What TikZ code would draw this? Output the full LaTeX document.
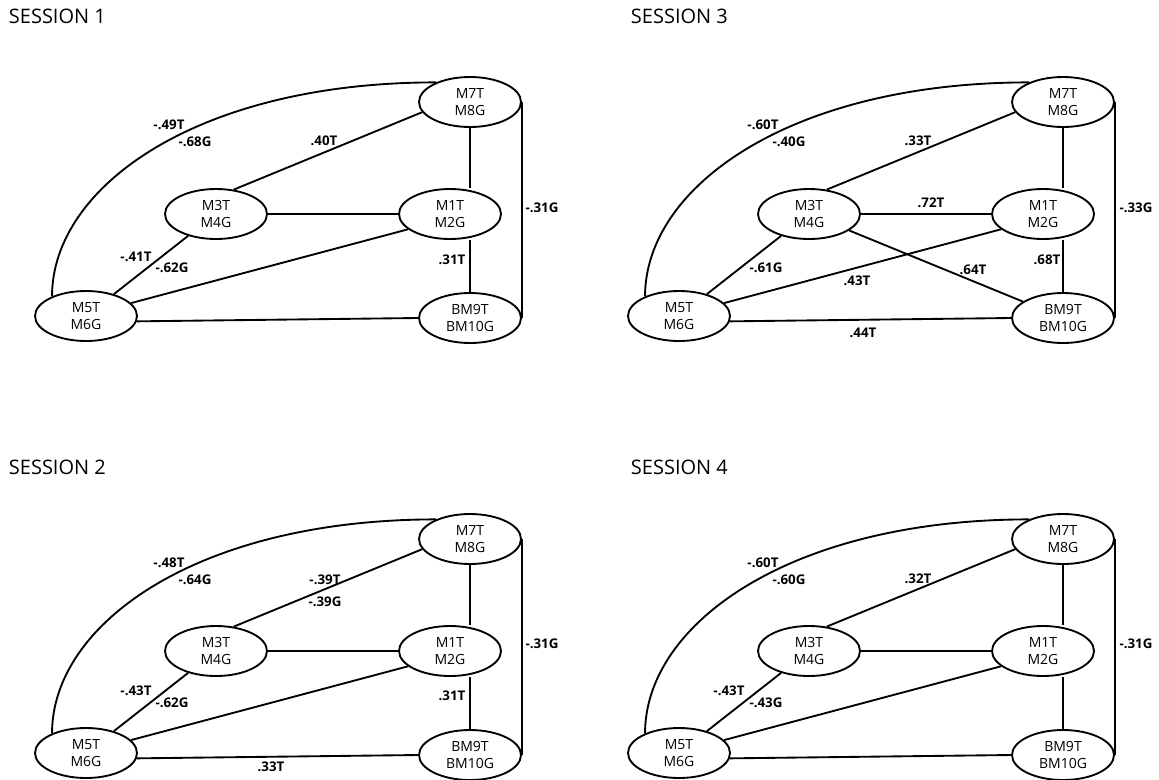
\documentclass[tikz,border=0pt]{standalone}
\usepackage{fontspec}
\setmainfont{Open Sans}
\usepackage{tikz}
\usetikzlibrary{shapes.geometric}

\begin{document}
\begin{tikzpicture}[x=0.75pt,y=-0.75pt,line width=1.4pt,
    mbox/.style={ellipse,draw,minimum width=76.5pt,minimum height=37.5pt,
      inner sep=0pt,align=center,font=\fontsize{10.5}{12.75}\selectfont},
    wlabel/.style={inner sep=0pt,font=\bfseries\fontsize{10}{12}\selectfont},
    stitle/.style={anchor=west,inner sep=0pt,font=\fontsize{15}{18}\selectfont}]
  \useasboundingbox (0,0) rectangle (1159,779);
  \foreach \s/\dx/\dy/\tx/\ty in {1/0/0/8/16,2/0/437/8/467,3/593/0/630/16,4/593/437/630/467}{
    \node[stitle] (title\s) at (\tx,\ty) {SESSION \s};
    \begin{scope}[shift={(\dx,\dy)},name prefix=s\s-]
      \node[mbox] (m7) at (470,102) {M7T\\M8G};
      \node[mbox] (m3) at (216,214) {M3T\\M4G};
      \node[mbox] (m1) at (450,214) {M1T\\M2G};
      \node[mbox] (m5) at (86,316) {M5T\\M6G};
      \node[mbox] (bm9) at (470,318) {BM9T\\BM10G};
      \draw (m5.150) .. controls +(0,-110) and +(-238,0) .. (m7.150);
      \draw (m3.54) -- (m7.192);
      \draw (m7.south) -- (m7.south |- m1.north);
      \draw (m7.east) -- (bm9.east);
      \draw (m3) -- (m1);
      \draw (m5) -- (m3);
      \draw (m5.16) -- (m1.200);
      \draw (m1.south -| bm9.north) -- (bm9.north);
      \draw (m5.-6) -- (bm9.west);
    \end{scope}
  }
  \draw (s3-m3) -- (s3-bm9);
  \begin{scope}
    \node[wlabel] (s1-a) at (169,125) {-.49T};
    \node[wlabel] (s1-b) at (195,142) {-.68G};
    \node[wlabel] (s1-c) at (324,141) {.40T};
    \node[wlabel] (s1-d) at (542,208) {-.31G};
    \node[wlabel] (s1-e) at (136,257) {-.41T};
    \node[wlabel] (s1-f) at (172,268) {-.62G};
    \node[wlabel] (s1-g) at (452,260) {.31T};
  \end{scope}
  \begin{scope}[shift={(0,437)}]
    \node[wlabel] (s2-a) at (169,126) {-.48T};
    \node[wlabel] (s2-b) at (195,143) {-.64G};
    \node[wlabel] (s2-c) at (325,143) {-.39T};
    \node[wlabel] (s2-d) at (325,165) {-.39G};
    \node[wlabel] (s2-e) at (542,207) {-.31G};
    \node[wlabel] (s2-f) at (136,254) {-.43T};
    \node[wlabel] (s2-g) at (172,266) {-.62G};
    \node[wlabel] (s2-h) at (452,259) {.31T};
    \node[wlabel] (s2-i) at (271,330) {.33T};
  \end{scope}
  \begin{scope}[shift={(593,0)}]
    \node[wlabel] (s3-a) at (170,125) {-.60T};
    \node[wlabel] (s3-b) at (196,142) {-.40G};
    \node[wlabel] (s3-c) at (325,141) {.33T};
    \node[wlabel] (s3-d) at (543,208) {-.33G};
    \node[wlabel] (s3-e) at (338,203) {.72T};
    \node[wlabel] (s3-f) at (173,268) {-.61G};
    \node[wlabel] (s3-g) at (264,281) {.43T};
    \node[wlabel] (s3-h) at (380,270) {.64T};
    \node[wlabel] (s3-i) at (454,260) {.68T};
    \node[wlabel] (s3-j) at (270,333) {.44T};
  \end{scope}
  \begin{scope}[shift={(593,437)}]
    \node[wlabel] (s4-a) at (170,126) {-.60T};
    \node[wlabel] (s4-b) at (196,143) {-.60G};
    \node[wlabel] (s4-c) at (325,142) {.32T};
    \node[wlabel] (s4-d) at (543,207) {-.31G};
    \node[wlabel] (s4-e) at (136,254) {-.43T};
    \node[wlabel] (s4-f) at (173,266) {-.43G};
  \end{scope}
\end{tikzpicture}
\end{document}
